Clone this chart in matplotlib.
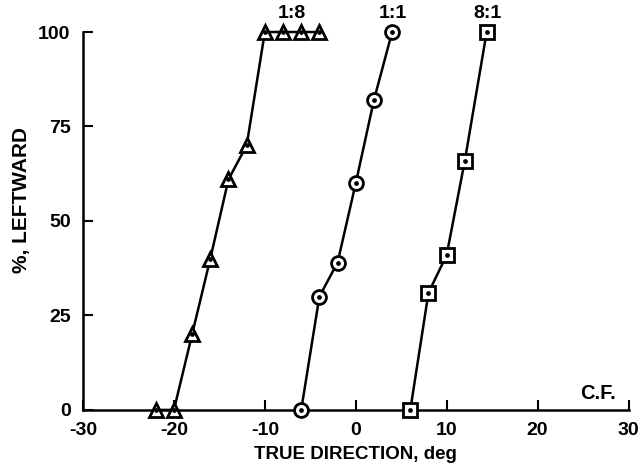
import matplotlib
matplotlib.use("Agg")
import matplotlib.pyplot as plt

plt.rcParams['font.family'] = ['Liberation Sans', 'DejaVu Sans']
plt.rcParams['font.weight'] = 'bold'
plt.rcParams['axes.unicode_minus'] = False

# Data
x_18 = [-22, -20, -18, -16, -14, -12, -10, -8, -6, -4]
y_18 = [0, 0, 20, 40, 61, 70, 100, 100, 100, 100]
x_11 = [-6, -4, -2, 0, 2, 4]
y_11 = [0, 30, 39, 60, 82, 100]
x_81 = [6, 8, 10, 12, 14.4]
y_81 = [0, 31, 41, 66, 100]
series_labels = ["1:8", "1:1", "8:1"]
label_x = [-7, 4.1, 14.5]
xticks = [-30, -20, -10, 0, 10, 20, 30]
yticks = [0, 25, 50, 75, 100]

fig = plt.figure(figsize=(6.41, 4.75), dpi=100)
ax = fig.add_axes([0.1295, 0.137, 0.851, 0.7956])

series = [(x_18, y_18, '^'), (x_11, y_11, 'o'), (x_81, y_81, 's')]
for xs, ys, m in series:
    ax.plot(xs, ys, color='black', lw=1.8, marker=m, markersize=10,
            markerfacecolor='white', markeredgecolor='black', markeredgewidth=2.0,
            clip_on=False, zorder=3)
    ax.plot(xs, ys, linestyle='none', marker='o', markersize=2.4,
            color='black', clip_on=False, zorder=4)

# Series labels above the top points
for lab, lx in zip(series_labels, label_x):
    ax.annotate(lab, xy=(lx, 100), xytext=(0, 10), textcoords='offset points',
                ha='center', va='baseline', fontsize=14, fontweight='bold')

ax.text(26.6, 2.9, "C.F.", ha='center', va='baseline', fontsize=14.5, fontweight='bold')

ax.set_xlim(-30, 30)
ax.set_ylim(0, 100)
ax.set_xticks(xticks)
ax.set_yticks(yticks)
ax.tick_params(direction='in', length=7.5, width=1.5, labelsize=14)
ax.tick_params(axis='x', pad=9)
ax.tick_params(axis='y', pad=9)
for lab in ax.get_xticklabels() + ax.get_yticklabels():
    lab.set_fontweight('bold')
for s in ['top', 'right']:
    ax.spines[s].set_visible(False)
for s in ['left', 'bottom']:
    ax.spines[s].set_linewidth(1.8)

ax.set_xlabel("TRUE DIRECTION, deg", fontsize=13.5, fontweight='bold', labelpad=5)
ax.set_ylabel("%, LEFTWARD", fontsize=15, fontweight='bold', labelpad=12)
ax.yaxis.set_label_coords(-0.095, 0.556)

fig.savefig("out.png", dpi=100)
